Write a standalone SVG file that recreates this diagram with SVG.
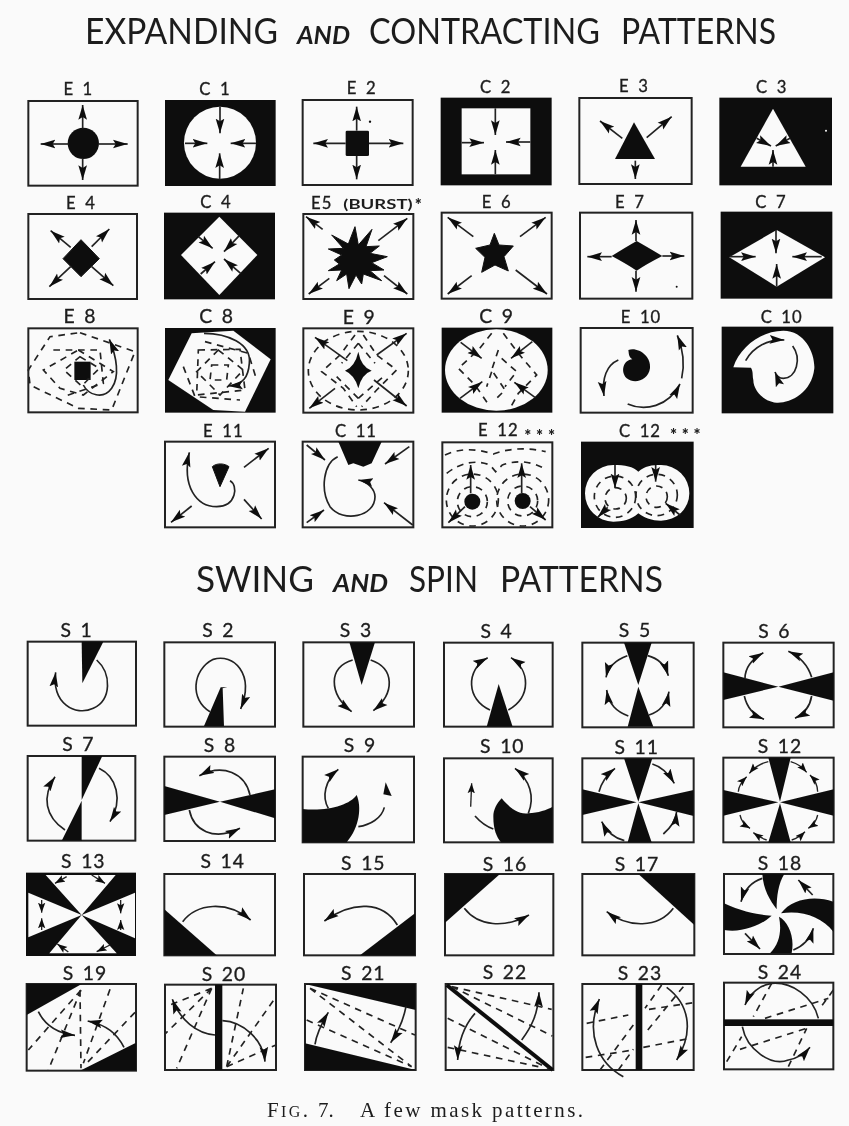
<svg xmlns="http://www.w3.org/2000/svg" width="849" height="1126" viewBox="0 0 849 1126">
<style>
text{font-family:"Lato","Liberation Sans",sans-serif;fill:#1c1c1c}
.l{font-size:50px;text-anchor:middle;letter-spacing:3px;word-spacing:10px;stroke:#1c1c1c;stroke-width:1}
.m{font-size:58px;text-anchor:middle;letter-spacing:3px;word-spacing:8px;stroke:#1c1c1c;stroke-width:1}
.s{font-size:40px;font-weight:700}
.q{font-size:50px;font-weight:900}
.t{font-size:36px}
.n{font-size:25px;font-style:italic;font-weight:700}
.c{font-family:"Liberation Serif",serif;font-size:21px}
.f{fill:#fafafa;stroke:#222;stroke-width:6}
.b{fill:#111;stroke:#111;stroke-width:3}
.w{fill:#fafafa}
.k{fill:#111}
.a{fill:none;stroke:#222;stroke-width:5;marker-end:url(#h)}
.e{fill:none;stroke:#222;stroke-width:4;marker-end:url(#g)}
.p{fill:none;stroke:#222;stroke-width:5}
.d{fill:none;stroke:#222;stroke-width:5;stroke-dasharray:20 17}
</style>
<defs>
<marker id="h" markerUnits="userSpaceOnUse" markerWidth="50" markerHeight="30" viewBox="0 -15 50 30" refX="44" refY="0" orient="auto"><path d="M0,-13 L44,0 L0,13 L8,0z" fill="#111"/></marker>
<marker id="g" markerUnits="userSpaceOnUse" markerWidth="34" markerHeight="24" viewBox="0 -12 34 24" refX="30" refY="0" orient="auto"><path d="M0,-11 L30,0 L0,11 L6,0z" fill="#111"/></marker>
<filter id="soft" filterUnits="userSpaceOnUse" x="0" y="0" width="849" height="1126"><feGaussianBlur stdDeviation="0.45"/></filter>
</defs>
<rect width="849" height="1126" fill="#fafafa"/>
<g filter="url(#soft)">
<g id="title1">
<text class="t" x="85" y="44" textLength="193" lengthAdjust="spacingAndGlyphs">EXPANDING</text>
<text class="n" x="297" y="44" textLength="53" lengthAdjust="spacingAndGlyphs">AND</text>
<text class="t" x="369" y="44" textLength="231" lengthAdjust="spacingAndGlyphs">CONTRACTING</text>
<text class="t" x="621" y="44" textLength="155" lengthAdjust="spacingAndGlyphs">PATTERNS</text>
</g>
<g id="title2">
<text class="t" x="196" y="592" textLength="118" lengthAdjust="spacingAndGlyphs">SWING</text>
<text class="n" x="333" y="592" textLength="55" lengthAdjust="spacingAndGlyphs">AND</text>
<text class="t" x="409" y="592" textLength="69" lengthAdjust="spacingAndGlyphs">SPIN</text>
<text class="t" x="500" y="592" textLength="163" lengthAdjust="spacingAndGlyphs">PATTERNS</text>
</g>
<g id="caption">
<text class="c" x="267" y="1117" textLength="41" lengthAdjust="spacing">F<tspan font-size="16">IG</tspan>.</text>
<text class="c" x="318" y="1117">7.</text>
<text class="c" x="360" y="1117" textLength="223" lengthAdjust="spacing">A few mask patterns.</text>
</g>

<g id="regionA" transform="translate(0,70) scale(.33333)">
<g id="E1"><text class="l" x="235" y="74">E 1</text><rect class="f" x="85" y="93" width="328" height="254"/><circle class="k" cx="250" cy="220" r="47"/><path class="a" d="M248,175V105"/><path class="a" d="M205,222H122"/><path class="a" d="M295,222H383"/><path class="a" d="M248,265V330"/></g>
<g id="C1"><text class="l" x="645" y="74">C 1</text><rect class="k" x="495" y="90" width="332" height="258"/><circle class="w" cx="660" cy="218" r="108"/><path class="a" d="M660,110V190"/><path class="a" d="M555,220H622"/><path class="a" d="M768,220H692"/><path class="a" d="M659,328V250"/></g>
<g id="E2"><text class="l" x="1085" y="72">E 2</text><rect class="f" x="908" y="90" width="330" height="255"/><rect class="k" x="1037" y="182" width="70" height="76" rx="4"/><path class="a" d="M1070,182V110"/><path class="a" d="M1037,220H940"/><path class="a" d="M1107,220H1210"/><path class="a" d="M1070,258V328"/><circle class="k" cx="1110" cy="155" r="3.5"/></g>
<g id="E4"><text class="l" x="243" y="416">E 4</text><rect class="f" x="85" y="432" width="326" height="255"/><path class="b" d="M243,509L298,566L243,620L189,566z"/><path class="a" d="M212,532L152,482"/><path class="a" d="M275,530L328,477"/><path class="a" d="M212,590L148,650"/><path class="a" d="M275,590L340,647"/></g>
<g id="C4"><text class="l" x="648" y="415">C 4</text><rect class="k" x="492" y="428" width="333" height="260"/><path class="w" d="M658,440L772,555L658,675L543,555z"/><path class="a" d="M595,500L638,535"/><path class="a" d="M718,497L672,545"/><path class="a" d="M602,612L645,575"/><path class="a" d="M722,610L672,567"/></g>
<g id="E5"><text class="l" x="965" y="416">E5</text><text class="s" x="1030" y="416" textLength="208" lengthAdjust="spacingAndGlyphs">(BURST)</text><text class="q" x="1244" y="424">*</text><rect class="f" x="910" y="432" width="330" height="255"/><path class="b" stroke-linejoin="round" d="M1065,470L1075,525L1116,478L1098,530L1138,528L1110,550L1162,560L1115,578L1152,600L1110,602L1145,632L1090,612L1085,642L1068,615L1047,656L1040,612L1010,632L1025,600L985,602L1018,582L1003,570L1025,555L985,537L1030,535L995,495L1045,522z"/><path class="a" d="M968,478L918,440"/><path class="a" d="M1135,512L1222,445"/><path class="a" d="M988,625L926,672"/><path class="a" d="M1152,617L1222,672"/></g>
</g>

<g id="regionB" transform="translate(425,70) scale(.33333)">
<g id="C2"><text class="l" x="212" y="68">C 2</text><rect class="k" x="47" y="83" width="333" height="263"/><rect class="w" x="110" y="115" width="206" height="198"/><path class="a" d="M211,115V195"/><path class="a" d="M110,218H177"/><path class="a" d="M316,216H243"/><path class="a" d="M211,313V240"/></g>
<g id="E3"><text class="l" x="627" y="67">E 3</text><rect class="f" x="463" y="84" width="337" height="258"/><path class="k" d="M627,157L690,267H570z"/><path class="a" d="M592,205L525,153"/><path class="a" d="M665,203L740,140"/><path class="a" d="M631,272V327"/></g>
<g id="C3"><text class="l" x="1040" y="70">C 3</text><rect class="k" x="883" y="83" width="338" height="263"/><path class="w" d="M1044,116L1142,290H947z"/><path class="a" d="M995,205L1038,228"/><path class="a" d="M1095,205L1052,228"/><path class="a" d="M1044,290V240"/><circle class="w" cx="1203" cy="182" r="3"/></g>
<g id="E6"><text class="l" x="215" y="413">E 6</text><rect class="f" x="50" y="428" width="330" height="258"/><path class="b" stroke-linejoin="round" d="M208,490L222,525L265,528L237,560L250,603L210,585L170,607L180,562L152,535L195,525z"/><path class="a" d="M145,500L68,442"/><path class="a" d="M285,500L362,442"/><path class="a" d="M140,617L68,672"/><path class="a" d="M272,600L366,672"/></g>
<g id="E7"><text class="l" x="615" y="413">E 7</text><rect class="f" x="465" y="428" width="337" height="258"/><path class="k" d="M635,513Q665,530 712,558Q665,582 635,602Q605,582 560,558Q605,530 635,513z"/><path class="a" d="M633,513V450"/><path class="a" d="M560,560H487"/><path class="a" d="M712,558H778"/><path class="a" d="M633,602V665"/><circle class="k" cx="755" cy="650" r="3"/></g>
<g id="C7"><text class="l" x="1038" y="415">C 7</text><rect class="k" x="887" y="425" width="335" height="261"/><path class="w" d="M1055,480L1200,562L1055,650L913,562z"/><path class="a" d="M1053,480V550"/><path class="a" d="M915,560H992"/><path class="a" d="M1190,560H1102"/><path class="a" d="M1055,650V582"/></g>
</g>

<g id="regionC" transform="translate(0,300) scale(.33333)">
<g id="E8"><text class="m" x="240" y="69">E 8</text><rect class="f" x="85" y="85" width="328" height="252"/><rect class="k" x="223" y="185" width="49" height="55"/><path class="d" d="M240,170L298,205L245,258L192,210z"/><path class="d" d="M235,150L340,215L250,285L180,265L130,210z"/><path class="d" d="M240,98L405,155L335,330L235,325L90,255L85,210L150,110z"/><path class="d" d="M160,150L300,150L310,250L190,290"/><path class="a" d="M250,255C265,285 310,300 335,265C360,230 350,170 328,118"/></g>
<g id="C8"><text class="m" x="650" y="69">C 8</text><rect class="k" x="495" y="84" width="332" height="254"/><path class="w" d="M575,100L700,92L812,178L735,335L640,330L505,240z"/><path class="d" d="M595,150L720,148L735,270L590,285z"/><path class="d" d="M635,195L685,195L680,240L630,240z"/><path class="d" d="M655,150L730,210L660,285L590,215z"/><path class="d" d="M550,200L585,290L720,300"/><path class="d" d="M615,125L745,160L770,240"/><path class="a" d="M612,100C680,100 755,130 748,190C745,230 730,255 684,258"/></g>
<g id="E9"><text class="m" x="1078" y="72">E 9</text><rect class="f" x="910" y="85" width="330" height="253"/><path class="k" d="M1075,155Q1083,200 1115,212Q1085,222 1075,265Q1065,225 1035,212Q1065,200 1075,155z"/><ellipse class="d" cx="1075" cy="212" rx="150" ry="118"/><path class="d" d="M1065,105L1020,165L965,215L1030,265L1070,320"/><path class="d" d="M1090,105L1130,165L1190,210L1130,270L1085,320"/><path class="d" d="M1075,130L1125,190M1075,130L1025,190M1075,295L1010,230M1075,295L1150,230"/><path class="a" d="M1042,182L945,112"/><path class="a" d="M1130,165L1220,100"/><path class="a" d="M1005,265L928,325"/><path class="a" d="M1122,240L1220,318"/></g>
<g id="E11"><text class="l" x="670" y="412">E 11</text><rect class="f" x="495" y="425" width="330" height="257"/><path class="b" stroke-linejoin="round" d="M637,500C650,488 675,490 687,500L660,560z"/><path class="a" d="M732,502L806,445"/><path class="a" d="M732,598L785,657"/><path class="a" d="M575,618L513,667"/><path class="a" d="M690,542C715,555 710,620 650,620C590,620 545,560 568,457"/></g>
<g id="C11"><text class="l" x="1068" y="412">C 11</text><rect class="f" x="908" y="425" width="332" height="257"/><path class="k" d="M1015,425H1145L1115,490L1090,500L1060,490L1045,495z"/><path class="a" d="M920,435L975,480"/><path class="a" d="M1228,440L1155,492"/><path class="a" d="M1238,675L1152,608"/><path class="a" d="M920,668L972,630"/><path class="a" d="M1013,470C970,490 960,570 990,620C1030,670 1125,650 1125,590C1125,570 1105,545 1075,540"/></g>
</g>

<g id="regionD" transform="translate(425,300) scale(.33333)">
<g id="C9"><text class="m" x="215" y="70">C 9</text><rect class="k" x="50" y="83" width="332" height="255"/><ellipse class="w" cx="214" cy="210" rx="154" ry="122"/><path class="d" d="M200,100L160,150L100,205L150,255L195,320"/><path class="d" d="M235,100L280,160L335,225L280,280L255,325"/><path class="d" d="M220,150L200,210L240,270L215,295M230,175L275,215L240,260M200,215L185,260"/><path class="a" d="M107,127L170,175"/><path class="a" d="M322,125L258,175"/><path class="a" d="M105,295L172,245"/><path class="a" d="M330,292L268,247"/></g>
<g id="E10"><text class="l" x="648" y="68">E 10</text><rect class="f" x="467" y="84" width="336" height="254"/><path class="k" d="M610,150C640,140 680,170 675,205C670,240 630,255 605,235C585,215 595,180 622,178C610,170 612,160 610,150z"/><path class="a" d="M580,180C545,195 530,235 537,288"/><path class="a" d="M608,312C660,335 730,320 765,252"/><path class="a" d="M770,235C780,190 775,150 757,106"/></g>
<g id="C10"><text class="l" x="1070" y="68">C 10</text><rect class="k" x="890" y="80" width="335" height="260"/><path class="w" d="M925,202C945,140 1010,92 1075,92C1140,92 1170,160 1168,205C1160,280 1095,310 1055,308C1015,305 985,270 985,240C982,225 985,215 978,203z"/><path class="a" d="M962,182C985,140 1030,118 1078,120"/><path class="a" d="M1103,138C1130,175 1115,235 1075,235C1065,235 1055,230 1050,216"/></g>
<g id="E12"><text class="l" x="220" y="408">E 12</text><text class="q" x="298" y="426" textLength="92" lengthAdjust="spacing">***</text><rect class="f" x="52" y="427" width="330" height="255"/><circle class="k" cx="142" cy="605" r="24"/><circle class="k" cx="293" cy="603" r="24"/><circle class="d" cx="142" cy="605" r="45"/><circle class="d" cx="293" cy="603" r="45"/><circle class="d" cx="142" cy="600" r="78"/><circle class="d" cx="293" cy="600" r="78"/><path class="d" d="M60,465Q120,435 205,462Q280,435 362,455"/><path class="d" d="M65,520Q130,470 195,495L212,515L232,495Q300,470 365,510"/><path class="a" d="M137,580V495"/><path class="a" d="M290,580V490"/><path class="a" d="M120,620L70,668"/><path class="a" d="M315,620L362,660"/></g>
<g id="C12"><text class="l" x="645" y="412">C 12</text><text class="q" x="735" y="424" textLength="92" lengthAdjust="spacing">***</text><rect class="k" x="468" y="425" width="338" height="259"/><path class="w" d="M480,580A85,85 0 0 1 565,495C600,495 625,500 640,515C660,498 680,495 708,495A85,85 0 0 1 793,580A85,82 0 0 1 708,662C680,662 660,655 640,640C620,660 590,665 565,665A85,85 0 0 1 480,580z"/><circle class="d" cx="572" cy="595" r="32"/><circle class="d" cx="695" cy="590" r="32"/><circle class="d" cx="570" cy="590" r="62"/><circle class="d" cx="695" cy="585" r="62"/><path class="a" d="M570,495V565"/><path class="a" d="M692,495V545"/><path class="a" d="M548,622L518,652"/><path class="a" d="M765,645L722,610"/></g>
</g>

<g id="regionE" transform="translate(0,610) scale(.33333)">
<g id="S1"><text class="m" x="230" y="80">S 1</text><rect class="f" x="83" y="95" width="325" height="252"/><path class="k" d="M245,95H310L247,220z"/><path class="a" d="M290,150C335,190 335,270 280,295C225,320 155,280 167,187"/></g>
<g id="S2"><text class="m" x="655" y="80">S 2</text><rect class="f" x="493" y="97" width="332" height="253"/><path class="k" d="M612,348H672L668,235L682,232L662,232z"/><path class="a" d="M630,305C570,270 575,180 640,148C700,130 765,190 722,297"/></g>
<g id="S3"><text class="m" x="1068" y="80">S 3</text><rect class="f" x="910" y="97" width="332" height="253"/><path class="k" d="M1048,97H1125L1085,225z"/><path class="a" d="M1058,150C985,170 985,250 1055,305"/><path class="a" d="M1112,150C1185,175 1185,250 1120,302"/></g>
<g id="S7"><text class="m" x="235" y="423">S 7</text><rect class="f" x="83" y="438" width="323" height="254"/><path class="k" d="M245,438H307L245,570zM245,692H185L245,572z"/><path class="a" d="M195,660C135,620 125,560 165,500"/><path class="a" d="M297,475C350,500 370,570 330,635"/></g>
<g id="S8"><text class="m" x="660" y="425">S 8</text><rect class="f" x="493" y="440" width="332" height="253"/><path class="k" d="M493,528V615L660,575zM825,538V625L660,575z"/><path class="a" d="M750,555C735,490 670,460 598,497"/><path class="a" d="M568,600C580,660 640,695 720,655"/></g>
<g id="S9"><text class="m" x="1080" y="425">S 9</text><rect class="f" x="908" y="440" width="334" height="257"/><path class="k" d="M908,597C980,605 1050,585 1070,555C1085,590 1080,650 1040,697L908,697z"/><path class="a" d="M985,595C965,560 975,510 1015,478"/><path class="p" d="M1075,650C1110,645 1145,625 1153,592"/><path class="k" d="M1157,517L1175,558L1150,553z"/></g>
</g>

<g id="regionF" transform="translate(425,610) scale(.33333)">
<g id="S4"><text class="m" x="215" y="83">S 4</text><rect class="f" x="57" y="98" width="326" height="252"/><path class="k" d="M185,350H263L221,222z"/><path class="a" d="M195,300C125,270 120,180 188,143"/><path class="a" d="M250,300C320,260 315,180 258,143"/></g>
<g id="S5"><text class="m" x="630" y="80">S 5</text><rect class="f" x="472" y="98" width="334" height="254"/><path class="k" d="M597,98H680L640,225zM608,350H685L640,230z"/><path class="a" d="M607,137C570,150 550,170 543,202"/><path class="a" d="M668,137C700,145 720,165 730,197"/><path class="a" d="M610,318C575,305 552,285 545,240"/><path class="a" d="M672,315C705,305 725,280 732,245"/></g>
<g id="S6"><text class="m" x="1048" y="85">S 6</text><rect class="f" x="895" y="98" width="331" height="254"/><path class="k" d="M895,187V270L1060,230zM1226,187V272L1060,230z"/><path class="a" d="M960,205C960,170 985,145 1015,128"/><path class="a" d="M1160,202C1150,170 1125,140 1090,124"/><path class="a" d="M958,258C965,290 985,315 1017,328"/><path class="a" d="M1160,258C1155,290 1140,310 1110,325"/></g>
<g id="S10"><text class="m" x="232" y="430">S 10</text><rect class="f" x="57" y="445" width="326" height="252"/><path class="k" d="M205,620C205,600 215,580 230,565C250,590 280,615 310,610C340,608 365,600 383,590V697H228C215,680 205,660 205,620z"/><path class="a" d="M310,610C330,560 315,510 270,475"/><path class="p" d="M205,657C185,650 165,635 150,618"/><path class="e" d="M137,590L140,520"/></g>
<g id="S11"><text class="m" x="635" y="432">S 11</text><rect class="f" x="472" y="445" width="334" height="252"/><path class="k" d="M597,445H682L640,575zM608,697H680L640,580zM472,538V615L635,577zM806,540V618L640,577z"/><path class="a" d="M522,545C530,515 545,495 570,475"/><path class="a" d="M682,462C710,470 730,490 748,520"/><path class="a" d="M598,692C570,685 545,665 530,635"/><path class="a" d="M715,672C735,655 752,635 755,605"/></g>
<g id="S12"><text class="m" x="1065" y="430">S 12</text><rect class="f" x="895" y="443" width="331" height="254"/><path class="k" d="M1030,443H1097L1065,575zM1030,697H1097L1065,580zM895,540V617L1060,577zM1226,538V617L1065,577z"/><path class="e" d="M1030,455C1005,460 990,470 973,490"/><path class="e" d="M1097,455C1120,462 1130,470 1145,487"/><path class="e" d="M940,545C940,530 950,515 965,500"/><path class="e" d="M1178,545C1178,525 1170,510 1155,495"/><path class="e" d="M945,615C948,630 958,645 975,655"/><path class="e" d="M1178,615C1175,630 1165,645 1150,655"/><path class="e" d="M1025,690C1010,685 995,675 985,668"/><path class="e" d="M1100,690C1115,685 1130,675 1140,665"/></g>
</g>

<g id="regionG" transform="translate(0,850) scale(.33333)">
<g id="S13"><text class="m" x="250" y="55">S 13</text><rect class="k" x="78" y="68" width="330" height="250"/><path class="w" d="M137,75H347L245,195zM148,310H350L245,195zM85,128V262L245,195zM405,128V265L245,195z"/><path class="e" d="M200,80L165,100"/><path class="e" d="M275,75L315,100"/><path class="e" d="M125,150V188"/><path class="e" d="M125,240V205"/><path class="e" d="M362,150V190"/><path class="e" d="M362,240V210"/><path class="e" d="M205,306L172,282"/><path class="e" d="M330,285L290,305"/></g>
<g id="S14"><text class="m" x="668" y="55">S 14</text><rect class="f" x="493" y="72" width="332" height="244"/><path class="k" d="M493,178L650,316H493z"/><path class="a" d="M548,215C590,160 680,150 752,210"/></g>
<g id="S15"><text class="m" x="1090" y="60">S 15</text><rect class="f" x="912" y="72" width="333" height="244"/><path class="k" d="M1245,190V316H1080z"/><path class="a" d="M1192,225C1150,155 1060,150 973,213"/></g>
<g id="S19"><text class="m" x="255" y="390">S 19</text><rect class="f" x="80" y="402" width="328" height="260"/><path class="k" d="M80,402H245L80,495zM408,578V662H240z"/><path class="d" d="M243,420L85,600M243,420L145,660M240,420L243,655M330,418L250,640M405,487L255,645"/><path class="a" d="M115,485C135,525 170,550 225,556"/><path class="a" d="M372,592C350,550 320,525 263,513"/></g>
<g id="S20"><text class="m" x="672" y="393">S 20</text><rect class="f" x="495" y="404" width="333" height="256"/><rect class="k" x="645" y="404" width="22" height="256"/><path class="d" d="M635,415L497,470M635,415L497,550M635,415L530,655M680,650L730,415M680,650L825,445M680,650L828,585"/><path class="a" d="M645,555C590,550 540,510 517,448"/><path class="a" d="M667,512C730,515 790,570 795,635"/></g>
<g id="S21"><text class="m" x="1090" y="390">S 21</text><rect class="f" x="915" y="402" width="332" height="258"/><path class="k" d="M915,402H1247V480zM915,580L1247,660H915z"/><path class="d" d="M930,415L1245,555M930,415L1235,650M920,510L1235,650"/><path class="a" d="M945,583C950,550 965,520 985,487"/><path class="a" d="M1218,470C1210,510 1195,545 1172,578"/></g>
</g>

<g id="regionH" transform="translate(425,850) scale(.33333)">
<g id="S16"><text class="m" x="240" y="62">S 16</text><rect class="f" x="60" y="72" width="325" height="244"/><path class="k" d="M60,72H225L60,218z"/><path class="a" d="M118,175C160,230 240,235 312,195"/></g>
<g id="S17"><text class="m" x="636" y="62">S 17</text><rect class="f" x="472" y="72" width="336" height="244"/><path class="k" d="M640,72H808V225z"/><path class="a" d="M745,175C700,235 610,235 545,185"/></g>
<g id="S18"><text class="m" x="1065" y="60">S 18</text><rect class="f" x="897" y="72" width="328" height="240"/><path class="k" d="M1012,72H1078C1060,100 1055,140 1055,178C1035,150 1015,120 1012,72zM1068,190C1100,145 1170,135 1225,155V245C1190,200 1130,180 1068,190zM1062,200C1090,215 1110,260 1100,310H1035C1065,280 1070,240 1062,200zM897,160C950,185 1000,195 1040,197C1010,225 950,250 897,240z"/><path class="a" d="M1012,85C980,95 958,120 948,155"/><path class="a" d="M1163,135L1120,90"/><path class="a" d="M960,250L1005,297"/><path class="a" d="M1105,300C1130,290 1155,270 1165,235"/></g>
<g id="S22"><text class="m" x="240" y="388">S 22</text><rect class="f" x="62" y="402" width="323" height="258"/><path d="M65,405L383,660" fill="none" stroke="#111" stroke-width="12"/><path class="d" d="M80,410L380,478M80,410L382,558M68,505L370,655M68,592L340,650"/><path class="a" d="M150,490C115,530 100,575 98,630"/><path class="a" d="M290,570C320,530 340,490 342,427"/></g>
<g id="S23"><text class="m" x="645" y="390">S 23</text><rect class="f" x="472" y="402" width="334" height="258"/><rect class="k" x="632" y="402" width="20" height="258"/><path class="d" d="M485,520L610,495M482,622L625,600M525,660L625,525M580,660L625,598M710,405L660,475M775,410L660,550M672,478L805,458M655,592L795,565"/><path class="a" d="M595,680C520,640 480,550 523,447"/><path class="a" d="M725,412C790,460 810,540 755,630"/></g>
<g id="S24"><text class="m" x="1065" y="388">S 24</text><rect class="f" x="897" y="398" width="328" height="260"/><rect class="k" x="897" y="508" width="328" height="20"/><path class="d" d="M1040,400L985,500M1225,420L1185,475M1020,505L1210,445M905,635L950,560M945,598L1145,535M1090,650L1145,535"/><path class="a" d="M1180,505C1165,440 1100,395 1040,400C1005,405 975,430 960,465"/><path class="a" d="M952,530C965,600 1040,650 1090,630C1120,625 1140,610 1155,592"/></g>
</g>
</g>
</svg>
